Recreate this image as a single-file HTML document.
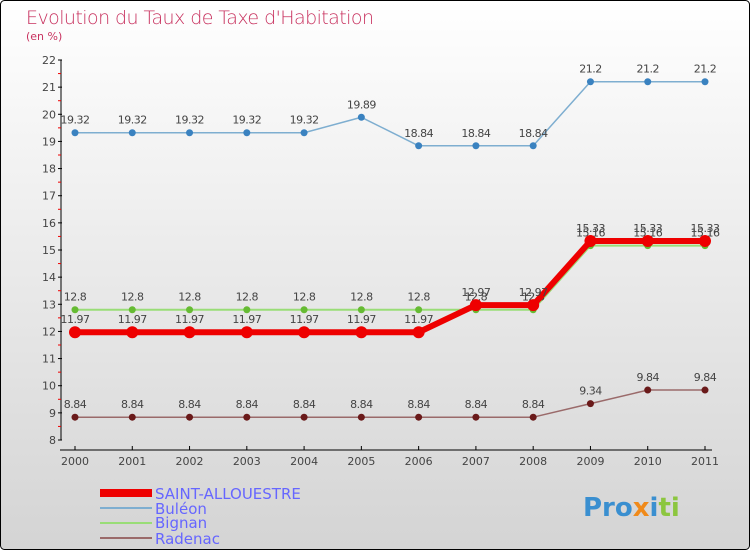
<!DOCTYPE html>
<html><head><meta charset="utf-8"><style>
body{margin:0}
#c{width:750px;height:550px;position:relative;overflow:hidden;font-family:"DejaVu Sans","Liberation Sans",sans-serif}
</style></head><body>
<div id="c">
<svg id="s" width="750" height="550" xmlns="http://www.w3.org/2000/svg">
<defs><linearGradient id="bg" x1="0" y1="0" x2="0" y2="1"><stop offset="0" stop-color="#ffffff"/><stop offset="1" stop-color="#d4d4d4"/></linearGradient></defs>
<rect x="0.5" y="0.5" width="749" height="549" rx="4" fill="url(#bg)" stroke="#000"/>
<text x="26" y="24" font-size="19" fill="#c8325f" style="font-family:'DejaVu Sans',sans-serif;font-weight:200" textLength="348">Evolution du Taux de Taxe d'Habitation</text>
<text x="26" y="40" font-size="11" fill="#c8325f">(en %)</text>
<g id="axes"></g><g id="series"></g>
<g>
<rect x="100" y="489" width="52" height="8" fill="#ee0000"/>
<text x="155" y="499" font-size="15" fill="#6666ff">SAINT-ALLOUESTRE</text>
<rect x="100" y="507" width="52" height="2" fill="#7eaed0"/>
<text x="155" y="514" font-size="15" fill="#6666ff">Buléon</text>
<rect x="100" y="522" width="52" height="2" fill="#99dd77"/>
<text x="155" y="528" font-size="15" fill="#6666ff">Bignan</text>
<rect x="100" y="537" width="52" height="2" fill="#9a6a6a"/>
<text x="155" y="544" font-size="15" fill="#6666ff">Radenac</text>
</g>
<text x="583" y="516" font-size="26" font-weight="bold"><tspan fill="#3a8fd0">Pro</tspan><tspan fill="#f08a1a">x</tspan><tspan fill="#3a8fd0">i</tspan><tspan fill="#8cc63f">ti</tspan></text>
</svg>
</div>
<script>
const years=[2000,2001,2002,2003,2004,2005,2006,2007,2008,2009,2010,2011];
const saint=[11.97,11.97,11.97,11.97,11.97,11.97,11.97,12.97,12.97,15.33,15.33,15.33];
const buleon=[19.32,19.32,19.32,19.32,19.32,19.89,18.84,18.84,18.84,21.2,21.2,21.2];
const bignan=[12.8,12.8,12.8,12.8,12.8,12.8,12.8,12.8,12.8,15.16,15.16,15.16];
const radenac=[8.84,8.84,8.84,8.84,8.84,8.84,8.84,8.84,8.84,9.34,9.84,9.84];
const yTicks=[8,9,10,11,12,13,14,15,16,17,18,19,20,21,22];
const NS="http://www.w3.org/2000/svg";
const X=i=>75+i*(630/11);
const Y=v=>440-(v-8)*(380/14);
function mk(p,t,a){const e=document.createElementNS(NS,t);for(const k in a)e.setAttribute(k,a[k]);p.appendChild(e);return e;}
const ax=document.getElementById('axes'),sg=document.getElementById('series');
let yl=mk(ax,'line',{x1:61,y1:Y(22),x2:61,y2:Y(8),stroke:'#000'});


yTicks.forEach(t=>{
 mk(ax,'line',{x1:58,y1:Y(t),x2:62,y2:Y(t),stroke:'#000'});
 if(t<22)mk(ax,'line',{x1:58,y1:Y(t+0.5),x2:61,y2:Y(t+0.5),stroke:'#e00'});
 const tx=mk(ax,'text',{x:56,y:Y(t)+4,'font-size':11,fill:'#444','text-anchor':'end'});
 tx.textContent=t;
 
 
});
let xl=mk(ax,'line',{x1:60,y1:450,x2:712,y2:450,stroke:'#000'});


years.forEach((y,i)=>{
 mk(ax,'line',{x1:X(i),y1:446,x2:X(i),y2:450,stroke:'#000'});
 const tx=mk(ax,'text',{x:X(i),y:465,'font-size':11,fill:'#444','text-anchor':'middle'});
 tx.textContent=y;
 
 
});
function series(name,vals,color,w,dot,r){
 const g=mk(sg,'g',{});
 
 
 const pl=mk(g,'polyline',{points:vals.map((v,i)=>X(i)+','+Y(v)).join(' '),fill:'none',stroke:color,'stroke-width':w,'stroke-linejoin':'round'});
 
 
 vals.forEach((v,i)=>{
  const c=mk(g,'circle',{cx:X(i),cy:Y(v),r:r,fill:dot});
  
  
  const t=mk(g,'text',{x:X(i),y:Y(v)-9,'font-size':11,fill:'#444','text-anchor':'middle','letter-spacing':'-0.5'});
  t.textContent=v;
  
  
 });
}
series('buleon',buleon,'#7eaed0',1.5,'#3a82c0',3.5);
series('radenac',radenac,'#9a6a6a',1.5,'#6a1a1a',3.5);
series('bignan',bignan,'#99dd77',2,'#66bb33',3.5);
series('saint-allouestre',saint,'#ee0000',6,'#ee0000',6);
</script>
</body></html>
